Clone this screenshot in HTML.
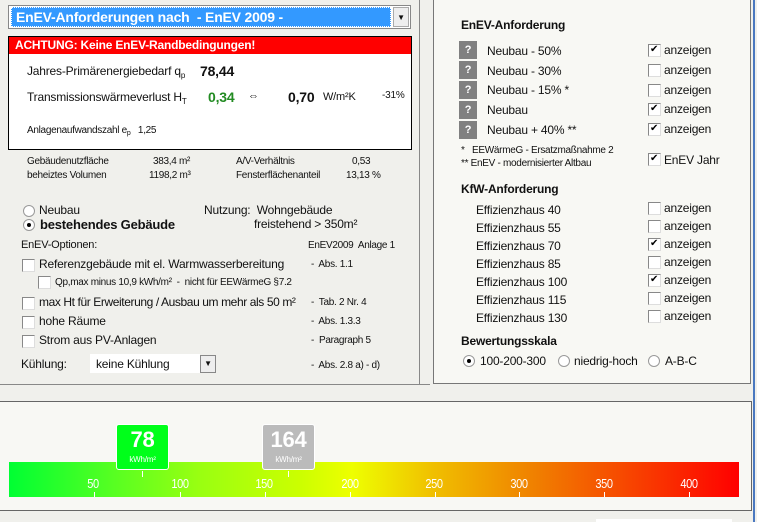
<!DOCTYPE html>
<html><head><meta charset="utf-8"><style>
*{margin:0;padding:0;box-sizing:border-box}
body{width:757px;height:522px;position:relative;overflow:hidden;background:#f0f0ec;font-family:"Liberation Sans",sans-serif;font-size:12px;color:#111;letter-spacing:-0.2px}
.a{position:absolute;white-space:nowrap}
.cb{position:absolute;width:13px;height:13px;border:1px solid #888;background:#fff;border-right-color:#ddd;border-bottom-color:#ddd}
.cb.c::after{content:"✔";position:absolute;left:1px;top:-1px;font-size:10px;color:#000}
.q{position:absolute;width:18px;height:18px;background:#808080;color:#fff;font-weight:bold;font-size:11px;text-align:center;line-height:18px}
.rd{position:absolute;width:12px;height:12px;border-radius:50%;border:1px solid #999;background:#fff}
.rd.s::after{content:"";position:absolute;left:3px;top:3px;width:4px;height:4px;border-radius:50%;background:#000}
.s11{font-size:11px}.s10{font-size:10px;letter-spacing:-0.3px}
.t{position:absolute;top:492px;width:1px;height:5px;background:#fff}
.l{position:absolute;top:476px;color:#fff;font-size:13px;transform:translateX(-50%) scaleX(0.85);letter-spacing:-0.5px}
</style></head><body>
<div class="a" style="left:8px;top:5px;width:403px;height:24px;border:1px solid #888;background:#fff"></div>
<div class="a" style="left:11px;top:7px;width:380px;height:20px;background:#3399ff;border:1px dotted #fff;color:#fff;font-weight:bold;font-size:14px;line-height:19px;padding-left:4px">EnEV-Anforderungen nach&nbsp; - EnEV 2009 -</div>
<div class="a" style="left:393px;top:7px;width:16px;height:20px;background:#eee;border:1px solid #aaa;font-size:8px;text-align:center;line-height:19px">▼</div>
<div class="a" style="left:8px;top:36px;width:404px;height:114px;border:1px solid #000;background:#fff"></div>
<div class="a" style="left:9px;top:37px;width:402px;height:17px;background:#ff0000;color:#fff;font-weight:bold;font-size:12px;line-height:17px;padding-left:6px">ACHTUNG: Keine EnEV-Randbedingungen!</div>
<div class="a" style="left:27px;top:64px">Jahres-Primärenergiebedarf q<span style="font-size:8px;position:relative;top:3px">p</span></div>
<div class="a" style="left:200px;top:63px;font-weight:bold;font-size:14px">78,44</div>
<div class="a" style="left:27px;top:90px">Transmissionswärmeverlust H<span style="font-size:8px;position:relative;top:3px">T</span></div>
<div class="a" style="left:208px;top:89px;font-weight:bold;font-size:14px;color:#228b22">0,34</div>
<div class="a" style="left:248px;top:90px;font-size:11px">⇔</div>
<div class="a" style="left:288px;top:89px;font-weight:bold;font-size:14px">0,70</div>
<div class="a" style="left:323px;top:91px;font-size:11px">W/m²K</div>
<div class="a" style="left:382px;top:90px;font-size:10px">-31%</div>
<div class="a s10" style="left:27px;top:125px">Anlagenaufwandszahl e<span style="font-size:7px;position:relative;top:2px">p</span>&nbsp;&nbsp; 1,25</div>
<div class="a s10" style="left:27px;top:156px">Gebäudenutzfläche</div>
<div class="a s10" style="left:153px;top:156px">383,4 m²</div>
<div class="a s10" style="left:236px;top:156px">A/V-Verhältnis</div>
<div class="a s10" style="left:352px;top:156px">0,53</div>
<div class="a s10" style="left:27px;top:170px">beheiztes Volumen</div>
<div class="a s10" style="left:149px;top:170px">1198,2 m³</div>
<div class="a s10" style="left:236px;top:170px">Fensterflächenanteil</div>
<div class="a s10" style="left:346px;top:170px">13,13 %</div>
<div class="rd" style="left:23px;top:205px"></div><div class="a" style="left:39px;top:203px">Neubau</div>
<div class="rd s" style="left:23px;top:219px"></div><div class="a" style="left:40px;top:217px;font-weight:bold;font-size:13px">bestehendes Gebäude</div>
<div class="a" style="left:204px;top:203px">Nutzung:&nbsp; Wohngebäude</div>
<div class="a" style="left:254px;top:217px">freistehend &gt; 350m²</div>
<div class="a s11" style="left:21px;top:239px">EnEV-Optionen:</div>
<div class="a s10" style="left:308px;top:240px">EnEV2009&nbsp; Anlage 1</div>
<div class="cb" style="left:22px;top:259px"></div><div class="a" style="left:39px;top:257px">Referenzgebäude mit el. Warmwasserbereitung</div>
<div class="a s10" style="left:311px;top:259px">-&nbsp; Abs. 1.1</div>
<div class="cb" style="left:38px;top:276px"></div><div class="a s10" style="left:55px;top:277px">Qp,max minus 10,9 kWh/m²&nbsp; -&nbsp; nicht für EEWärmeG §7.2</div>
<div class="cb" style="left:22px;top:297px"></div><div class="a" style="left:39px;top:295px;letter-spacing:-0.4px">max Ht für Erweiterung / Ausbau um mehr als 50 m²</div>
<div class="a s10" style="left:311px;top:297px">-&nbsp; Tab. 2 Nr. 4</div>
<div class="cb" style="left:22px;top:316px"></div><div class="a" style="left:39px;top:314px">hohe Räume</div>
<div class="a s10" style="left:311px;top:316px">-&nbsp; Abs. 1.3.3</div>
<div class="cb" style="left:22px;top:335px"></div><div class="a" style="left:39px;top:333px">Strom aus PV-Anlagen</div>
<div class="a s10" style="left:311px;top:335px">-&nbsp; Paragraph 5</div>
<div class="a" style="left:21px;top:357px">Kühlung:</div>
<div class="a" style="left:90px;top:354px;width:110px;height:19px;background:#fff;padding:3px 6px">keine Kühlung</div>
<div class="a" style="left:200px;top:355px;width:16px;height:18px;background:#eee;border:1px solid #888;font-size:8px;text-align:center;line-height:16px">▼</div>
<div class="a s10" style="left:311px;top:360px">-&nbsp; Abs. 2.8 a) - d)</div>
<div class="a" style="left:0;top:384px;width:430px;height:1px;background:#888"></div>
<div class="a" style="left:419px;top:0;width:1px;height:384px;background:#888"></div>
<div class="a" style="left:433px;top:-2px;width:318px;height:386px;border:1px solid #777;background:#f8f8f4"></div>
<div class="a" style="left:753px;top:0;width:2px;height:522px;background:#4a78c0"></div>
<div class="a" style="left:461px;top:18px;font-weight:bold">EnEV-Anforderung</div>
<div class="q" style="left:459px;top:41px">?</div><div class="a" style="left:487px;top:44px">Neubau - 50%</div>
<div class="q" style="left:459px;top:61px">?</div><div class="a" style="left:487px;top:64px">Neubau - 30%</div>
<div class="q" style="left:459px;top:81px">?</div><div class="a" style="left:487px;top:83px">Neubau - 15% *</div>
<div class="q" style="left:459px;top:101px">?</div><div class="a" style="left:487px;top:103px">Neubau</div>
<div class="q" style="left:459px;top:121px">?</div><div class="a" style="left:487px;top:123px">Neubau + 40% **</div>
<div class="cb c" style="left:648px;top:44px"></div><div class="a" style="left:664px;top:43px">anzeigen</div>
<div class="cb" style="left:648px;top:64px"></div><div class="a" style="left:664px;top:63px">anzeigen</div>
<div class="cb" style="left:648px;top:84px"></div><div class="a" style="left:664px;top:83px">anzeigen</div>
<div class="cb c" style="left:648px;top:103px"></div><div class="a" style="left:664px;top:102px">anzeigen</div>
<div class="cb c" style="left:648px;top:123px"></div><div class="a" style="left:664px;top:122px">anzeigen</div>
<div class="a s10" style="left:461px;top:145px">*&nbsp;&nbsp; EEWärmeG - Ersatzmaßnahme 2</div>
<div class="a s10" style="left:461px;top:158px">** EnEV - modernisierter Altbau</div>
<div class="cb c" style="left:648px;top:153px"></div><div class="a" style="left:664px;top:153px">EnEV Jahr</div>
<div class="a" style="left:461px;top:182px;font-weight:bold">KfW-Anforderung</div>
<div class="a" style="left:476px;top:203px">Effizienzhaus 40</div>
<div class="a" style="left:476px;top:221px">Effizienzhaus 55</div>
<div class="a" style="left:476px;top:239px">Effizienzhaus 70</div>
<div class="a" style="left:476px;top:257px">Effizienzhaus 85</div>
<div class="a" style="left:476px;top:275px">Effizienzhaus 100</div>
<div class="a" style="left:476px;top:293px">Effizienzhaus 115</div>
<div class="a" style="left:476px;top:311px">Effizienzhaus 130</div>
<div class="cb" style="left:648px;top:202px"></div><div class="a" style="left:664px;top:201px">anzeigen</div>
<div class="cb" style="left:648px;top:220px"></div><div class="a" style="left:664px;top:219px">anzeigen</div>
<div class="cb c" style="left:648px;top:238px"></div><div class="a" style="left:664px;top:237px">anzeigen</div>
<div class="cb" style="left:648px;top:256px"></div><div class="a" style="left:664px;top:255px">anzeigen</div>
<div class="cb c" style="left:648px;top:274px"></div><div class="a" style="left:664px;top:273px">anzeigen</div>
<div class="cb" style="left:648px;top:292px"></div><div class="a" style="left:664px;top:291px">anzeigen</div>
<div class="cb" style="left:648px;top:310px"></div><div class="a" style="left:664px;top:309px">anzeigen</div>
<div class="a" style="left:461px;top:334px;font-weight:bold">Bewertungsskala</div>
<div class="rd s" style="left:463px;top:355px"></div><div class="a" style="left:480px;top:354px">100-200-300</div>
<div class="rd" style="left:558px;top:355px"></div><div class="a" style="left:574px;top:354px">niedrig-hoch</div>
<div class="rd" style="left:648px;top:355px"></div><div class="a" style="left:665px;top:354px">A-B-C</div>
<div class="a" style="left:-2px;top:401px;width:754px;height:110px;border:1px solid #666;background:#f8f8f4"></div>
<div class="a" style="left:9px;top:462px;width:730px;height:35px;background:linear-gradient(to right,#00ff33 0%,#55ff22 14%,#99ff11 26%,#ccff00 40%,#eeff00 47%,#f0c000 58%,#f08000 72%,#f84000 86%,#ff0000 100%)"></div>
<div class="t" style="left:94px"></div><div class="t" style="left:180px"></div><div class="t" style="left:265px"></div><div class="t" style="left:350px"></div><div class="t" style="left:435px"></div><div class="t" style="left:519px"></div><div class="t" style="left:604px"></div><div class="t" style="left:689px"></div>
<div class="l" style="left:93px">50</div><div class="l" style="left:180px">100</div><div class="l" style="left:264px">150</div><div class="l" style="left:350px">200</div><div class="l" style="left:434px">250</div><div class="l" style="left:519px">300</div><div class="l" style="left:604px">350</div><div class="l" style="left:689px">400</div>
<div class="a" style="left:116px;top:424px;width:53px;height:46px;background:#00ff1a;border:1px solid #fff;border-radius:3px;color:#fff;text-align:center"><div style="font-size:22px;font-weight:bold;line-height:30px">78</div><div style="font-size:8px">kWh/m²</div></div>
<div class="a" style="left:142px;top:471px;width:1px;height:6px;background:#fff"></div>
<div class="a" style="left:262px;top:424px;width:53px;height:46px;background:#bbbbbb;border:1px solid #fff;border-radius:3px;color:#fff;text-align:center"><div style="font-size:22px;font-weight:bold;line-height:30px">164</div><div style="font-size:8px">kWh/m²</div></div>
<div class="a" style="left:288px;top:471px;width:1px;height:6px;background:#fff"></div>
<div class="a" style="left:596px;top:519px;width:136px;height:3px;background:#fff"></div>
</body></html>
